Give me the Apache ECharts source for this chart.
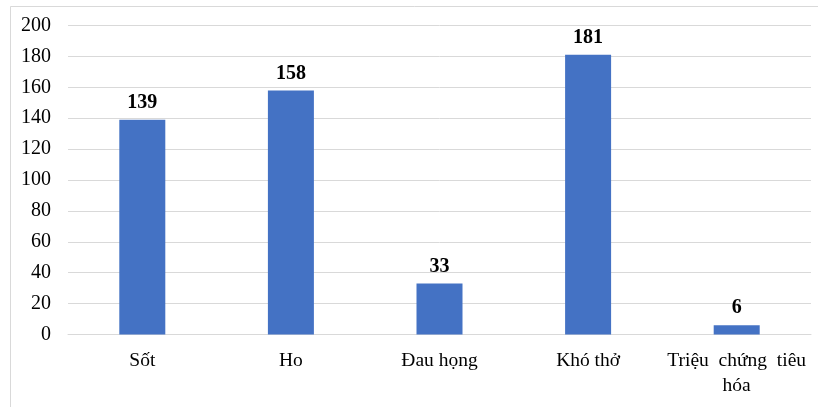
<!DOCTYPE html>
<html>
<head>
<meta charset="utf-8">
<script src="https://cdn.jsdelivr.net/npm/echarts@6/dist/echarts.min.js"></script>
<style>
  html, body { margin: 0; padding: 0; background: #fff; }
  #chart { width: 818px; height: 407px; }
</style>
</head>
<body>
<div id="chart"></div>
<script>
// Symptom categories and patient counts
const categories = ['Sốt', 'Ho', 'Đau họng', 'Khó thở', 'Triệu  chứng  tiêu\nhóa'];
const counts = [139, 158, 33, 181, 6];
const yTicks = { min: 0, max: 200, step: 20 };

const serif = '"Liberation Serif", "Times New Roman", serif';
const gridColor = '#d9d9d9';

const chart = echarts.init(document.getElementById('chart'), null, { renderer: 'canvas' });
chart.setOption({
  animation: false,
  backgroundColor: '#fff',
  graphic: [{
    type: 'rect',
    shape: { x: 10.5, y: 6.5, width: 820, height: 420 },
    style: { fill: 'none', stroke: '#d9d9d9', lineWidth: 1 },
    silent: true
  }],
  grid: { left: 68, right: 7, top: 25.5, bottom: 72.5, outerBoundsMode: 'none' },
  xAxis: {
    type: 'category',
    data: categories,
    axisTick: { show: false },
    axisLine: { lineStyle: { color: gridColor, width: 1 } },
    axisLabel: {
      interval: 0,
      margin: 14,
      color: '#000',
      fontFamily: serif,
      fontSize: 19.5,
      lineHeight: 25
    }
  },
  yAxis: {
    type: 'value',
    min: yTicks.min,
    max: yTicks.max,
    interval: yTicks.step,
    axisLine: { show: false },
    axisTick: { show: false },
    splitLine: { lineStyle: { color: gridColor, width: 1 } },
    axisLabel: {
      margin: 17,
      color: '#000',
      fontFamily: serif,
      fontSize: 20
    }
  },
  series: [{
    type: 'bar',
    data: counts,
    barWidth: 46,
    itemStyle: { color: '#4472C4' },
    label: {
      show: true,
      position: 'top',
      distance: 7,
      color: '#000',
      fontFamily: serif,
      fontWeight: 'bold',
      fontSize: 20
    }
  }]
});
</script>
</body>
</html>
